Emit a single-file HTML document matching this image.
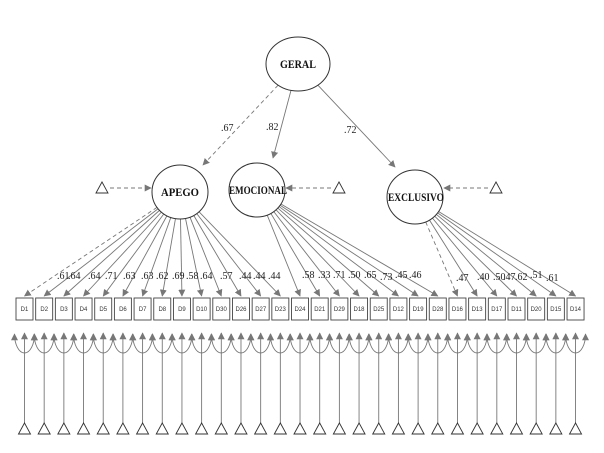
<!DOCTYPE html>
<html><head><meta charset="utf-8"><style>
html,body{margin:0;padding:0;background:#fff;width:604px;height:453px;overflow:hidden}
svg{display:block}
.l{font-family:"Liberation Serif",serif;font-size:10px;fill:#222}
.n{font-family:"Liberation Serif",serif;font-size:12px;font-weight:bold;fill:#111}
.b{font-family:"Liberation Sans",sans-serif;font-size:6px;fill:#333}
</style></head><body>
<svg id="s" width="604" height="453" viewBox="0 0 604 453" xmlns="http://www.w3.org/2000/svg">
<defs>
<marker id="a" viewBox="0 0 10 10" refX="9" refY="5" markerWidth="7" markerHeight="7" orient="auto-start-reverse" markerUnits="userSpaceOnUse"><path d="M0,0L10,5L0,10z" fill="#777"/></marker>
</defs>
<g id="g" stroke="#777" stroke-width="0.9" fill="none"></g>
<ellipse cx="298" cy="64" rx="32" ry="27" fill="#fff" stroke="#333"/>
<ellipse cx="180" cy="192" rx="28" ry="27" fill="#fff" stroke="#333"/>
<ellipse cx="257" cy="190" rx="28" ry="27" fill="#fff" stroke="#333"/>
<ellipse cx="415" cy="197" rx="28" ry="27" fill="#fff" stroke="#333"/>
<text class="n" x="298" y="68" text-anchor="middle" textLength="36" lengthAdjust="spacingAndGlyphs">GERAL</text>
<text class="n" x="180" y="196" text-anchor="middle" textLength="38" lengthAdjust="spacingAndGlyphs">APEGO</text>
<text class="n" x="258" y="194" text-anchor="middle" textLength="58" lengthAdjust="spacingAndGlyphs">EMOCIONAL</text>
<text class="n" x="416" y="201" text-anchor="middle" textLength="56" lengthAdjust="spacingAndGlyphs">EXCLUSIVO</text>
<text class="l" x="221" y="131">.67</text>
<text class="l" x="266" y="130">.82</text>
<text class="l" x="344" y="133">.72</text>
<g class="l">
<text x="57" y="279">.61</text><text x="68" y="279">.64</text><text x="88" y="279">.64</text><text x="105" y="279">.71</text><text x="123" y="279">.63</text><text x="141" y="279">.63</text><text x="156" y="279">.62</text><text x="172" y="279">.69</text><text x="186" y="279">.58</text><text x="200" y="279">.64</text><text x="220" y="279">.57</text><text x="239" y="279">.44</text><text x="253" y="279">.44</text><text x="268" y="279">.44</text>
<text x="302" y="278">.58</text><text x="318" y="278">.33</text><text x="333" y="278">.71</text><text x="348" y="278">.50</text><text x="364" y="278">.65</text><text x="380" y="280">.73</text><text x="395" y="278">.45</text><text x="409" y="278">.46</text>
<text x="456" y="281">.47</text><text x="477" y="280">.40</text><text x="493" y="280">.50</text><text x="503" y="280">.47</text><text x="515" y="280">.62</text><text x="530" y="278">.51</text><text x="546" y="281">.61</text>
</g>
<g class="b" text-anchor="middle">
<text x="24.5" y="311">D1</text><text x="44.2" y="311">D2</text><text x="63.9" y="311">D3</text><text x="83.5" y="311">D4</text><text x="103.2" y="311">D5</text><text x="122.9" y="311">D6</text><text x="142.6" y="311">D7</text><text x="162.3" y="311">D8</text><text x="181.9" y="311">D9</text><text x="201.6" y="311">D10</text><text x="221.3" y="311">D30</text><text x="241" y="311">D26</text><text x="260.7" y="311">D27</text><text x="280.3" y="311">D23</text><text x="300" y="311">D24</text><text x="319.7" y="311">D21</text><text x="339.4" y="311">D29</text><text x="359" y="311">D18</text><text x="378.7" y="311">D25</text><text x="398.4" y="311">D12</text><text x="418.1" y="311">D19</text><text x="437.8" y="311">D28</text><text x="457.4" y="311">D16</text><text x="477.1" y="311">D13</text><text x="496.8" y="311">D17</text><text x="516.5" y="311">D11</text><text x="536.1" y="311">D20</text><text x="555.8" y="311">D15</text><text x="575.5" y="311">D14</text>
</g>
<script>
var g=document.getElementById('g'),NS='http://www.w3.org/2000/svg';
function el(t,a,p){var e=document.createElementNS(NS,t);for(var k in a)e.setAttribute(k,a[k]);(p||g).appendChild(e);return e;}
function line(x1,y1,x2,y2,d){var o={x1:x1,y1:y1,x2:x2,y2:y2,'marker-end':'url(#a)'};if(d)o['stroke-dasharray']='4,3';el('line',o);}
function edge(ex,ey,rx,ry,tx,ty,d){var dx=tx-ex,dy=ty-ey,t=1/Math.sqrt(dx*dx/(rx*rx)+dy*dy/(ry*ry));line(ex+dx*t,ey+dy*t,tx,ty,d);}
edge(298,64,32,27,203,165,1);edge(298,64,32,27,273,158);edge(298,64,32,27,395,167);
[[102,188,151],[339,188,286],[496,188,444]].forEach(function(p){
 el('polygon',{points:(p[0]-6)+','+(p[1]+5)+' '+p[0]+','+(p[1]-6)+' '+(p[0]+6)+','+(p[1]+5),fill:'#fff',stroke:'#333'});
 var dir=p[2]>p[0]?1:-1;line(p[0]+dir*8,p[1],p[2],p[1],1);
});
for(var i=0;i<29;i++){
 var cx=24.5+19.68*i;
 el('rect',{x:cx-8.5,y:298,width:17,height:22,fill:'#fff',stroke:'#444'});
 var E=i<14?[180,192]:(i<22?[257,190]:[415,197]);
 edge(E[0],E[1],28,27,cx,296,(i==0||i==22));
 el('line',{x1:cx,y1:423,x2:cx,y2:333,'marker-end':'url(#a)'});
 el('path',{d:'M'+(cx-10)+',334 A10,19 0 0 0 '+(cx+10)+',334','marker-start':'url(#a)','marker-end':'url(#a)'});
 el('polygon',{points:(cx-6)+',434 '+cx+',423 '+(cx+6)+',434',fill:'#fff',stroke:'#333'});
}
</script>
</svg>
</body></html>
